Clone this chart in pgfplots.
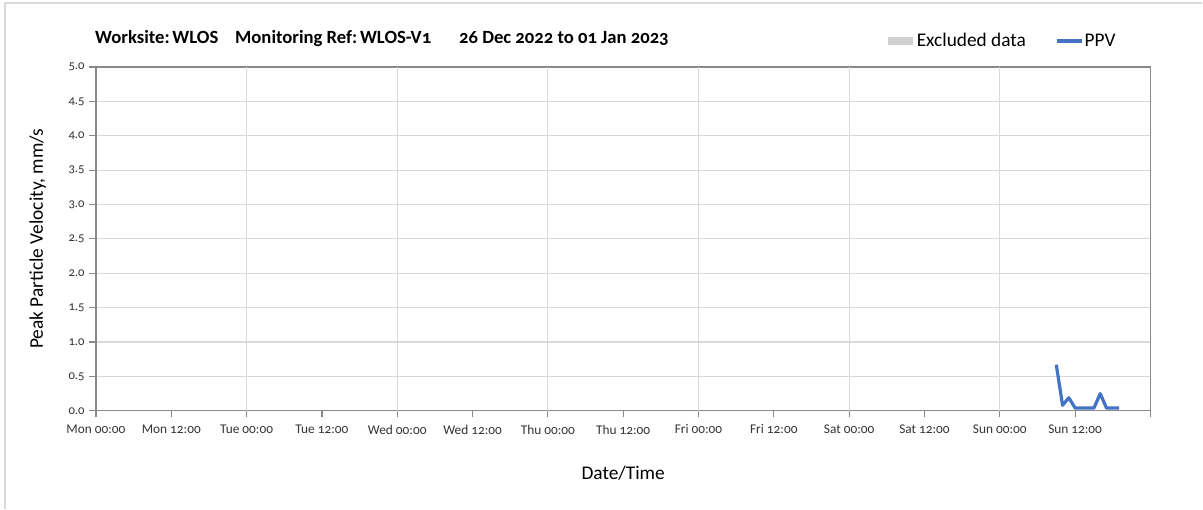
\documentclass[border=0pt]{standalone}
\usepackage{fontspec}
\setmainfont{Carlito}[Numbers=OldStyle]
\usepackage{pgfplots}
\pgfplotsset{compat=1.18}
\definecolor{ppv}{HTML}{4472C4}
\definecolor{axisgray}{HTML}{898989}
\definecolor{gridgray}{HTML}{D9D9D9}
\definecolor{excl}{HTML}{D0D0D0}

\begin{document}
\begin{tikzpicture}[x=0.75pt,y=0.75pt]
\begin{axis}[
  name=a,
  scale only axis,
  width=791.25pt, height=258pt,
  xmin=0, xmax=168, ymin=0, ymax=5,
  axis line style={axisgray, line width=0.9pt},
  xtick={0,12,...,156},
  xticklabels={Mon 00:00, Mon 12:00, Tue 00:00, Tue 12:00, Wed 00:00, Wed 12:00, Thu 00:00, Thu 12:00, Fri 00:00, Fri 12:00, Sat 00:00, Sat 12:00, Sun 00:00, Sun 12:00},
  extra x ticks={168}, extra x tick labels={},
  extra x tick style={grid=none},
  ytick={0,0.5,...,5},
  yticklabel style={/pgf/number format/fixed, /pgf/number format/fixed zerofill, /pgf/number format/precision=1},
  /pgf/number format/assume math mode=true,
  tick style={axisgray, line width=0.9pt},
  tick align=outside, major tick length=5pt,
  xtick pos=bottom, ytick pos=left,
  x tick label style={font=\fontsize{10}{11}\selectfont, text=black!80, yshift=-2pt},
  y tick label style={font=\fontsize{9.5}{10}\selectfont, text=black!80},
  ymajorgrids, 
  major grid style={gridgray, line width=0.9pt},
  xlabel={Date/Time}, ylabel={Peak Particle Velocity, mm/s},
  label style={font=\fontsize{14.5}{16}\selectfont},
  xlabel style={yshift=-7pt},
  ylabel style={yshift=10pt},
  clip=false,
]
% vertical grid lines at each 00:00
\pgfplotsinvokeforeach{24,48,72,96,120,144}{
  \draw[gridgray, line width=0.9pt] (axis cs:#1,0) -- (axis cs:#1,5);
}
\addplot[ppv, line width=2.4pt, line join=round] coordinates {
(153,0.67) (154,0.08) (155,0.19) (156,0.04) (157,0.04) (158,0.04)
(159,0.04) (160,0.25) (161,0.04) (162,0.04) (163,0.04)
};
\end{axis}
% outer chart frame (top and left edges visible)
\draw[gridgray, line width=0.9pt] ([shift={(-91,-98)}]a.south west) -- ([shift={(-91,64)}]a.north west) -- ([shift={(52,64)}]a.north east);
\draw[use as bounding box, draw=none] ([shift={(-96,-98)}]a.south west) rectangle ([shift={(52,67)}]a.north east);
% title
\node[anchor=base west, inner sep=0pt, font=\fontsize{14}{16}\selectfont\bfseries] at ([shift={(-1,23)}]a.north west)
  {Worksite:\hspace{0.15em}WLOS\hspace{0.9em}Monitoring Ref:\hspace{0.15em}WLOS-V1\hspace{1.5em}26 Dec 2022 to 01 Jan 2023};
% legend
\fill[excl] ([shift={(-263,30)}]a.north east) rectangle ([shift={(-238,22)}]a.north east);
\node[anchor=base west, font=\fontsize{14.5}{16}\selectfont, inner sep=0pt] at ([shift={(-234,20)}]a.north east) {Excluded data};
\draw[ppv, line width=2.4pt] ([shift={(-93,26)}]a.north east) -- ([shift={(-68,26)}]a.north east);
\node[anchor=base west, font=\fontsize{14.5}{16}\selectfont, inner sep=0pt] at ([shift={(-66,20)}]a.north east) {PPV};
\end{tikzpicture}
\end{document}
